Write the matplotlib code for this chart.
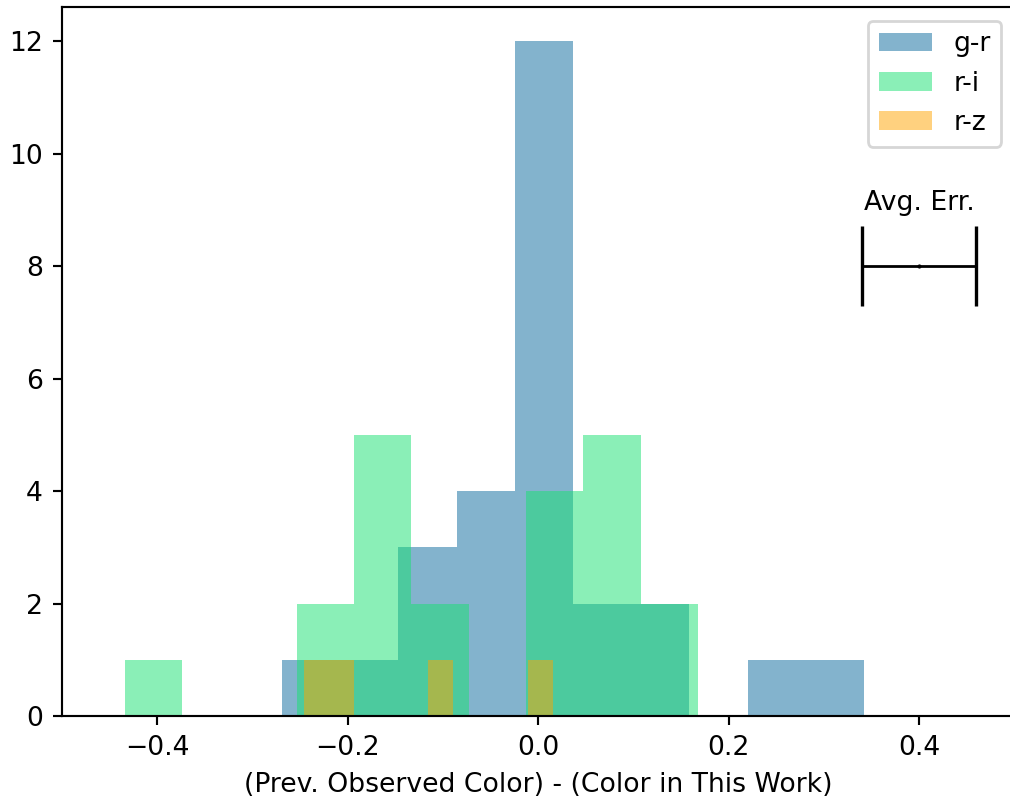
import numpy as np
import matplotlib
matplotlib.use('Agg')
import matplotlib.pyplot as plt

plt.rcParams['font.size'] = 9.6
plt.rcParams['axes.linewidth'] = 0.77
plt.rcParams['xtick.major.width'] = 0.77
plt.rcParams['ytick.major.width'] = 0.77
plt.rcParams['xtick.major.size'] = 3.4
plt.rcParams['ytick.major.size'] = 3.4

# colour differences, binned (10 bins per band)
gr_range = (-0.269, 0.342)
gr_counts = [1, 1, 3, 4, 12, 2, 2, 0, 1, 1]

ri_range = (-0.434, 0.1677)
ri_counts = [1, 0, 0, 2, 5, 2, 0, 4, 5, 2]

rz_range = (-0.246, 0.0154)
rz_counts = [1, 1, 0, 0, 0, 1, 0, 0, 0, 1]

avg_err_x = 0.4
avg_err_y = 8
avg_err = 0.06

fig = plt.figure(figsize=(5.05, 3.98), dpi=200)
ax = fig.add_axes([0.0614, 0.1005, 0.9431, 0.8901])


def draw_hist(rng, counts, color, label):
    edges = np.linspace(rng[0], rng[1], len(counts) + 1)
    ax.hist(edges[:-1], bins=edges, weights=counts, color=color, alpha=0.5, label=label)


draw_hist(gr_range, gr_counts, '#09699d', 'g-r')
draw_hist(ri_range, ri_counts, '#17e171', 'r-i')
draw_hist(rz_range, rz_counts, 'orange', 'r-z')

# average error bar
ax.errorbar(avg_err_x, avg_err_y, xerr=avg_err, color='k', capsize=14.5,
            elinewidth=1.0, capthick=1.2, fmt='.', markersize=1)
ax.text(avg_err_x, avg_err_y + 1.0, 'Avg. Err.', ha='center', va='baseline')

ax.set_xlim(-0.5, 0.5)
ax.set_ylim(0, 12.6)
ax.set_xlabel('(Prev. Observed Color) - (Color in This Work)')
ax.legend(loc='upper right')

fig.savefig('out.png', dpi=200)
